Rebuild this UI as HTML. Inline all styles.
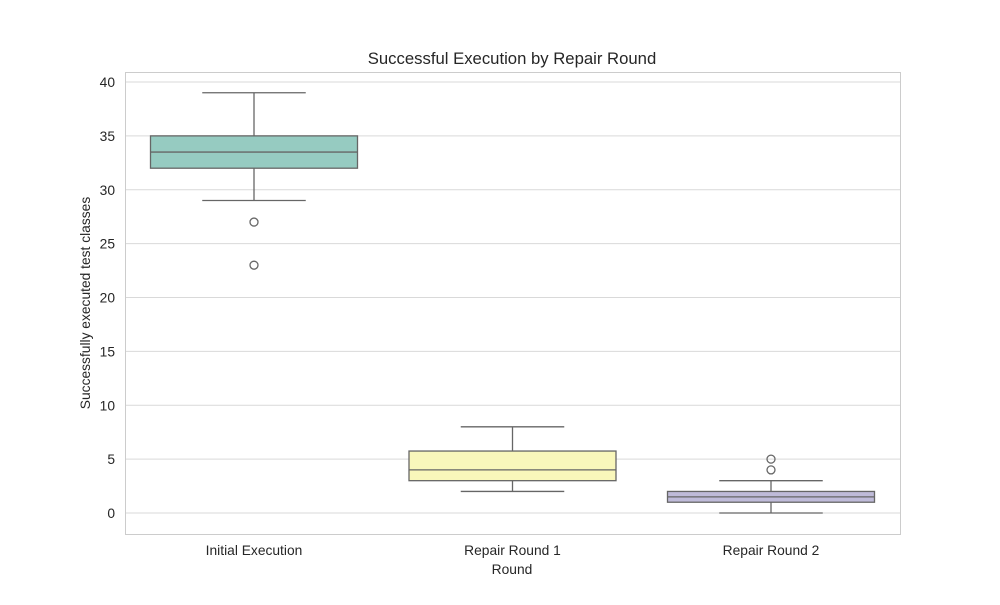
<!DOCTYPE html>
<html><head><meta charset="utf-8"><style>
body{margin:0;background:#fff;font-family:"Liberation Sans",Arial,sans-serif}
svg text{font-family:"Liberation Sans",Arial,sans-serif;fill:#262626}
</style></head><body>
<svg id="chart" width="1000" height="600">
<rect width="1000" height="600" fill="#fff"/>
<text x="512" y="64" text-anchor="middle" font-size="16.7">Successful Execution by Repair Round</text>
<g id="grid"></g>
<rect x="125.5" y="72.5" width="775" height="462" fill="none" stroke="#cccccc"/>
<g id="boxes"></g>
<text x="512" y="574" text-anchor="middle" font-size="13.8">Round</text>
<text transform="translate(90,303) rotate(-90)" text-anchor="middle" font-size="13.8">Successfully executed test classes</text>
</svg>
<script>
const categories=["Initial Execution","Repair Round 1","Repair Round 2"];
const q1=[32,3,1];
const medians=[33.5,4,1.5];
const q3=[35,5.75,2];
const whiskLo=[29,2,0];
const whiskHi=[39,8,3];
const outliers=[[27,23],[],[4,5]];
const colors=["#96cbc1","#f9f7bb","#bfbbd9"];
const yTicks=[0,5,10,15,20,25,30,35,40];
const NS="http://www.w3.org/2000/svg";
const y=v=>513-v*10.775;
const x=i=>254+i*258.5;
const bw=207;
function mk(tag,attrs,parent){const e=document.createElementNS(NS,tag);for(const k in attrs)e.setAttribute(k,attrs[k]);parent.appendChild(e);return e;}
const grid=document.getElementById('grid');
yTicks.forEach(t=>{
 const l=mk('line',{x1:125,x2:900,y1:y(t),y2:y(t),stroke:'#d9d9d9'},grid);
 
 
 const tx=mk('text',{x:115,y:y(t)+5,'text-anchor':'end','font-size':13.8},grid);
 tx.textContent=t;
 
 
});
const boxes=document.getElementById('boxes');
categories.forEach((c,i)=>{
 const g=mk('g',{},boxes);
 
 
 const cx=x(i),st={stroke:'#666','stroke-width':1.3};
 mk('line',Object.assign({x1:cx,x2:cx,y1:y(q3[i]),y2:y(whiskHi[i])},st),g);
 mk('line',Object.assign({x1:cx,x2:cx,y1:y(q1[i]),y2:y(whiskLo[i])},st),g);
 mk('line',Object.assign({x1:cx-bw/4,x2:cx+bw/4,y1:y(whiskHi[i]),y2:y(whiskHi[i])},st),g);
 mk('line',Object.assign({x1:cx-bw/4,x2:cx+bw/4,y1:y(whiskLo[i]),y2:y(whiskLo[i])},st),g);
 mk('rect',Object.assign({x:cx-bw/2,y:y(q3[i]),width:bw,height:y(q1[i])-y(q3[i]),fill:colors[i]},st),g);
 mk('line',Object.assign({x1:cx-bw/2,x2:cx+bw/2,y1:y(medians[i]),y2:y(medians[i])},st),g);
 outliers[i].forEach(o=>{
  const p=mk('circle',{cx:cx,cy:y(o),r:4,fill:'none',stroke:'#666','stroke-width':1.3},g);
  
  
 });
 const tx=mk('text',{x:cx,y:555,'text-anchor':'middle','font-size':13.8},boxes);
 tx.textContent=c;
 
 
});
</script>
</body></html>
